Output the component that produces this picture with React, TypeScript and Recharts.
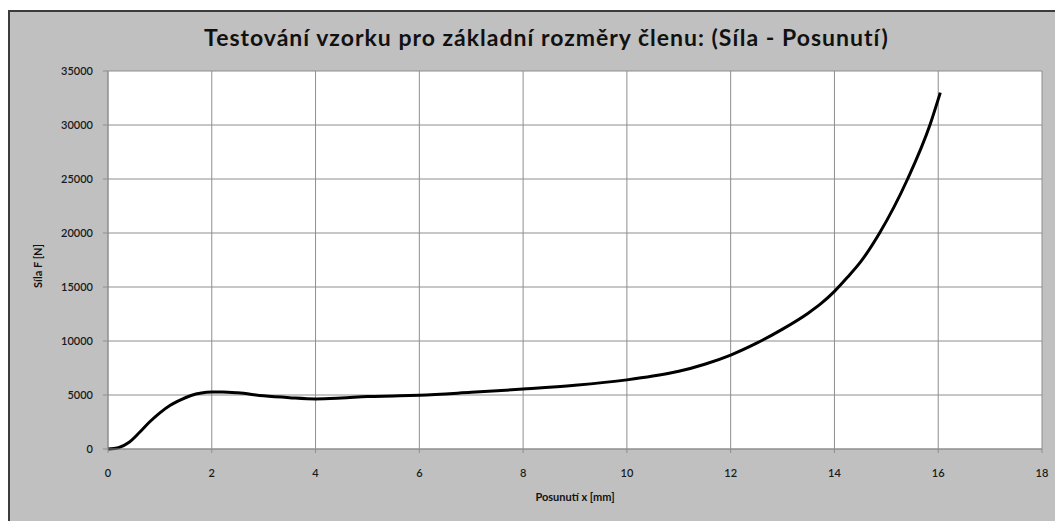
import React from 'react';
import { CartesianGrid, Line, LineChart, XAxis, YAxis } from 'recharts';

// Test vzorku: síla F [N] v závislosti na posunutí x [mm]
const posunuti = [
  0, 0.2, 0.4, 0.6, 0.8, 1.0, 1.2, 1.4, 1.6, 1.8, 2.0, 2.2, 2.5, 3.0, 3.5, 4.0, 4.5, 5.0, 5.5,
  6.0, 7.0, 8.0, 9.0, 10.0, 10.5, 11.0, 11.5, 12.0, 12.5, 13.0, 13.5, 13.75, 14.0, 14.25, 14.5,
  14.87, 15.41, 15.84, 16.04,
];
const sila = [
  0, 120, 600, 1500, 2500, 3350, 4050, 4550, 4950, 5180, 5270, 5280, 5200, 4920, 4750, 4640,
  4720, 4850, 4910, 4980, 5250, 5550, 5900, 6400, 6750, 7200, 7850, 8700, 9800, 11100, 12600,
  13500, 14600, 15900, 17300, 20000, 25000, 30000, 33000,
];
const xTicks = [0, 2, 4, 6, 8, 10, 12, 14, 16, 18];
const yTicks = [0, 5000, 10000, 15000, 20000, 25000, 30000, 35000];

const data = posunuti.map((x, i) => ({ x, f: sila[i] }));

const FONT = 'Lato, "Open Sans", sans-serif';
const GRID = '#8e8e8e';

export default function App() {
  return (
    <div
      style={{
        position: 'absolute',
        left: 0,
        top: 0,
        width: 1055,
        height: 521,
        background: '#fff',
        overflow: 'hidden',
        fontFamily: FONT,
      }}
    >
      <div
        style={{
          position: 'absolute',
          left: 8,
          top: 10,
          width: 1060,
          height: 520,
          background: '#c0c0c0',
          borderLeft: '2px solid #3c3c3c',
          borderTop: '2px solid #3c3c3c',
        }}
      />
      <div
        style={{
          position: 'absolute',
          left: 0,
          top: 23,
          width: 1093,
          textAlign: 'center',
          fontSize: 23,
          fontWeight: 700,
          letterSpacing: 1,
          color: '#111',
        }}
      >
        Testování vzorku pro základní rozměry členu: (Síla - Posunutí)
      </div>
      <div style={{ position: 'absolute', left: 0, top: 0 }}>
        <LineChart
          width={1055}
          height={521}
          data={data}
          margin={{ top: 71, right: 13, bottom: 42, left: 0 }}
        >
          <CartesianGrid stroke={GRID} fill="#fff" />
          <XAxis
            dataKey="x"
            type="number"
            domain={[0, 18]}
            ticks={xTicks}
            height={30}
            stroke={GRID}
            tickSize={4}
            tickMargin={16}
            tick={{ fontSize: 11, fill: '#1a1a1a', fontFamily: FONT, fontWeight: 600 }}
            label={{
              content: () => (
                <text
                  x={575}
                  y={501}
                  textAnchor="middle"
                  fontSize={11}
                  fontWeight={700}
                  fill="#111"
                  fontFamily={FONT}
                >
                  Posunutí x [mm]
                </text>
              ),
            }}
          />
          <YAxis
            type="number"
            domain={[0, 35000]}
            ticks={yTicks}
            width={108}
            stroke={GRID}
            tickSize={5}
            tickMargin={10}
            tick={{ fontSize: 11, fill: '#1a1a1a', fontFamily: FONT, fontWeight: 600 }}
            label={{
              content: () => (
                <text
                  x={42}
                  y={266}
                  textAnchor="middle"
                  fontSize={11}
                  fontWeight={700}
                  fill="#111"
                  fontFamily={FONT}
                  transform="rotate(-90 42 266)"
                >
                  Síla F [N]
                </text>
              ),
            }}
          />
          <Line
            dataKey="f"
            type="monotone"
            stroke="#000"
            strokeWidth={3}
            dot={false}
            isAnimationActive={false}
          />
        </LineChart>
      </div>
    </div>
  );
}
